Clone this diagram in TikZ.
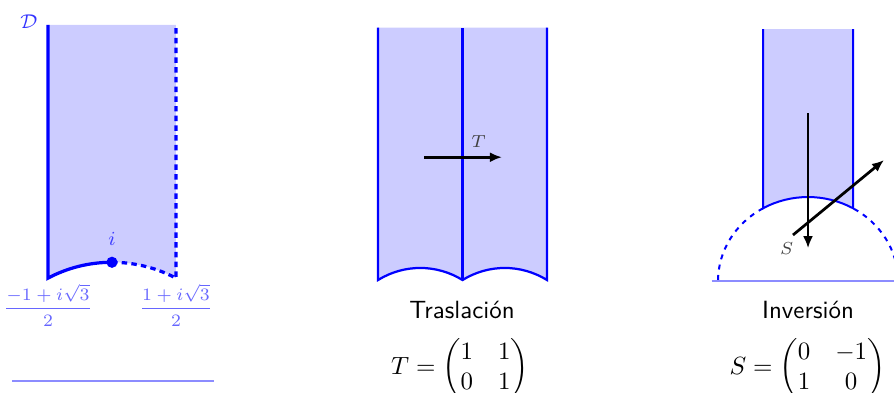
\documentclass[tikz,border=0pt]{standalone}
\usepackage{amsmath}
\usetikzlibrary{arrows.meta}

\begin{document}
\begin{tikzpicture}[
    fd/.style={fill=blue!20},
    bd/.style={blue,line width=1.3pt},
    dbd/.style={bd,dash pattern=on 2.2pt off 1.7pt},
    mbd/.style={blue,line width=0.9pt},
    rbd/.style={blue,line width=0.8pt},
    rdbd/.style={rbd,dash pattern=on 2pt off 2.2pt},
    rax/.style={blue!45,line width=0.7pt},
    mv/.style={-{Latex[length=1.7mm,width=1.4mm]},line width=1.1pt},
    lbl/.style={font=\scriptsize,text=black!75},
    captxt/.style={inner sep=0pt}]
  \clip (0,0) rectangle (12.605,5.541);
  % dominio fundamental
  \begin{scope}[shift={(1.579,0.169)},xscale=1.805,yscale=1.674]
    \coordinate (A) at (-0.5,{sqrt(3)/2});
    \coordinate (B) at (0.5,{sqrt(3)/2});
    \fill[fd] (-0.5,3) -- (A) arc[start angle=120,end angle=60,radius=1] -- (0.5,3) -- cycle;
    \draw[bd] (-0.5,3) -- (A) arc[start angle=120,end angle=90,radius=1];
    \draw[dbd] (0,1) arc[start angle=90,end angle=60,radius=1] -- (0.5,3);
    \node[circle,fill=blue,inner sep=0pt,minimum size=4.5pt] (i) at (0,1) {};
    \node[font=\footnotesize,text=blue!75,above=3pt] (il) at (i) {$i$};
    \node[font=\footnotesize,text=blue!80] (D) at (-0.65,3.03) {$\mathcal{D}$};
    \node[font=\scriptsize,text=blue!60] (Al) at (-0.5,0.64) {$\dfrac{-1+i\sqrt{3}}{2}$};
    \node[font=\scriptsize,text=blue!60] (Bl) at (0.5,0.64) {$\dfrac{1+i\sqrt{3}}{2}$};
    \draw[rax] (-0.78,0) -- (0.8,0);
  \end{scope}
  % traslacion
  \begin{scope}[shift={(5.926,0.494)},xscale=1.191,yscale=1.269]
    \fill[fd] (-0.5,3.67) -- (-0.5,{sqrt(3)/2}) arc[start angle=120,end angle=60,radius=1]
      arc[start angle=120,end angle=60,radius=1] -- (1.5,3.67) -- cycle;
    \draw[mbd] (-0.5,3.67) -- (-0.5,{sqrt(3)/2}) arc[start angle=120,end angle=60,radius=1]
      arc[start angle=120,end angle=60,radius=1] -- (1.5,3.67);
    \draw[mbd] (0.5,{sqrt(3)/2}) -- (0.5,3.67);
    \coordinate (T0) at (0.044,2.23);
    \coordinate (T1) at (0.967,2.23);
    \draw[mv] (T0) -- node[lbl,above,pos=0.7] (Tl) {$T$} (T1);
  \end{scope}
  \node[captxt] (trasl) at (6.514,1.175) {\textsf{Traslación}};
  \node[captxt] (Tmat) at (6.486,0.345) {$T=\begin{pmatrix}1&1\\0&1\end{pmatrix}$};
  % inversion
  \begin{scope}[shift={(11.393,1.579)},xscale=1.269,yscale=1.184]
    \fill[fd] (-0.5,3) -- (-0.5,{sqrt(3)/2}) arc[start angle=120,end angle=60,radius=1] -- (0.5,3) -- cycle;
    \draw[rbd] (-0.5,3) -- (-0.5,{sqrt(3)/2}) arc[start angle=120,end angle=60,radius=1] -- (0.5,3);
    \draw[rdbd] (1,0) arc[start angle=0,end angle=60,radius=1];
    \draw[rdbd] (-0.5,{sqrt(3)/2}) arc[start angle=120,end angle=180,radius=1];
    \draw[rax] (-1.07,0) -- (1.2,0);
    \coordinate (S0) at (0,2);
    \coordinate (S1) at (0,0.39);
    \coordinate (P0) at (-0.167,0.548);
    \coordinate (P1) at (0.844,1.44);
    \draw[mv] (S0) -- (S1) node[lbl,left=2pt] (Sl) {$S$};
    \draw[mv] (P0) -- (P1);
  \end{scope}
  \node[captxt] (inver) at (11.393,1.175) {\textsf{Inversión}};
  \node[captxt] (Smat) at (11.386,0.345) {$S=\begin{pmatrix}0&-1\\1&0\end{pmatrix}$};
\end{tikzpicture}
\end{document}
